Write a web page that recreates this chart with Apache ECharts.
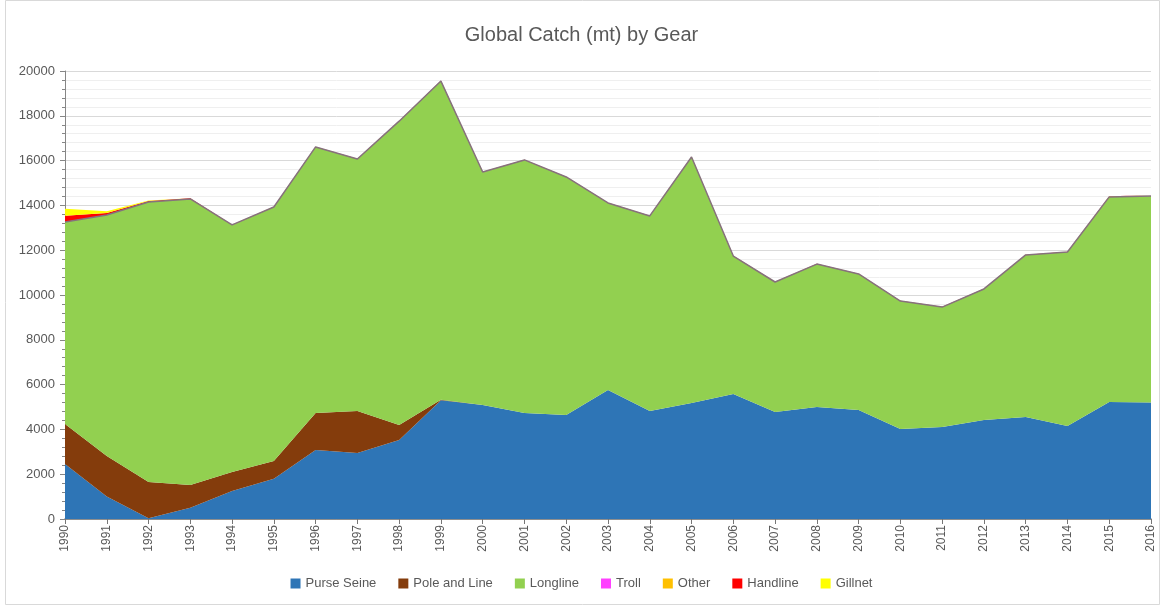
<!DOCTYPE html>
<html>
<head>
<meta charset="utf-8">
<script src="https://cdn.jsdelivr.net/npm/echarts@6/dist/echarts.min.js"></script>
<style>
  html, body { margin: 0; padding: 0; background: #fff; }
  #main { width: 1163px; height: 607px; }
</style>
</head>
<body>
<div id="main"></div>
<script>
var years = ['1990', '1991', '1992', '1993', '1994', '1995', '1996', '1997', '1998', '1999',
    '2000', '2001', '2002', '2003', '2004', '2005', '2006', '2007', '2008', '2009',
    '2010', '2011', '2012', '2013', '2014', '2015', '2016']

var purseSeine = [2450, 1000, 30, 500, 1250, 1800, 3080, 2950, 3530, 5300,
    5090, 4730, 4640, 5760, 4820, 5180, 5580, 4780, 5000, 4870,
    4020, 4110, 4420, 4550, 4150, 5220, 5200]
var poleAndLine = [1790, 1810, 1620, 1020, 850, 790, 1650, 1870, 670, 20,
    0, 0, 0, 0, 0, 0, 0, 0, 0, 0,
    0, 0, 0, 0, 0, 0, 0]
var longline = [9020, 10760, 12500, 12770, 11030, 11340, 11880, 11250, 13560, 14230,
    10400, 11300, 10630, 8350, 8710, 10980, 6160, 5800, 6380, 6070,
    5710, 5350, 5850, 7240, 7770, 9160, 9220]
var troll = [0, 0, 0, 0, 0, 0, 0, 0, 0, 0,
    0, 0, 0, 0, 0, 0, 0, 0, 0, 0,
    0, 0, 0, 0, 0, 0, 0]
var other = [0, 0, 0, 0, 0, 0, 0, 0, 0, 0,
    0, 0, 0, 0, 0, 0, 0, 0, 0, 0,
    0, 0, 0, 0, 0, 20, 20]
var handline = [280, 90, 50, 30, 10, 10, 10, 10, 10, 10,
    10, 10, 10, 10, 10, 10, 10, 10, 10, 10,
    10, 10, 10, 10, 10, 10, 10]
var gillnet = [310, 80, 20, 0, 0, 0, 0, 0, 0, 0,
    0, 0, 0, 0, 0, 0, 0, 0, 0, 0,
    0, 0, 0, 0, 0, 0, 0]

var myChart = echarts.init(document.getElementById('main'))

var font = 'Liberation Sans, Arial, sans-serif'

// one stacked area series
function area(name, data, color, line) {
    return {
        name: name,
        type: 'line',
        stack: 'total',
        data: data,
        symbol: 'none',
        smooth: false,
        itemStyle: { color: color },
        lineStyle: line || { width: 0 },
        areaStyle: { color: color, opacity: 1 },
        emphasis: { disabled: true }
    }
}

var options = {
    animation: false,
    backgroundColor: '#fff',
    title: {
        text: 'Global Catch (mt) by Gear',
        left: 'center',
        top: 20,
        textStyle: { fontFamily: font, fontSize: 20, fontWeight: 'normal', color: '#595959' }
    },
    legend: {
        bottom: 12,
        left: 'center',
        itemWidth: 10,
        itemHeight: 10,
        itemGap: 22,
        icon: 'rect',
        textStyle: { fontFamily: font, fontSize: 13, color: '#595959' },
        data: ['Purse Seine', 'Pole and Line', 'Longline', 'Troll', 'Other', 'Handline', 'Gillnet']
    },
    grid: { left: 65, right: 12, top: 71, bottom: 88 },
    xAxis: {
        type: 'category',
        data: years,
        boundaryGap: false,
        axisLine: { lineStyle: { color: '#767676', width: 1.5 } },
        axisTick: { show: true, lineStyle: { color: '#767676' }, length: 5 },
        axisLabel: { rotate: 90, fontFamily: font, fontSize: 12, color: '#595959', margin: 6 },
        splitLine: { show: false }
    },
    yAxis: {
        type: 'value',
        min: 0,
        max: 20000,
        interval: 2000,
        axisLine: { show: true, lineStyle: { color: '#868686' } },
        axisTick: { show: true, lineStyle: { color: '#868686' }, length: 5 },
        minorTick: { show: true, splitNumber: 5, length: 3, lineStyle: { color: '#868686' } },
        axisLabel: {
            fontFamily: font, fontSize: 13, color: '#595959', margin: 10,
            formatter: function (v) { return String(v) }
        },
        splitLine: { lineStyle: { color: '#d9d9d9' } },
        minorSplitLine: { show: true, lineStyle: { color: '#efefef' } }
    },
    graphic: [{
        type: 'rect',
        shape: { x: 5.5, y: 0.5, width: 1154, height: 604 },
        style: { fill: 'none', stroke: '#d9d9d9', lineWidth: 1 },
        silent: true
    }],
    series: [
        area('Purse Seine', purseSeine, '#2E75B6'),
        area('Pole and Line', poleAndLine, '#843C0C'),
        area('Longline', longline, '#92D050', { width: 1.5, color: '#86727c' }),
        area('Troll', troll, '#FF40FF'),
        area('Other', other, '#FFC000'),
        area('Handline', handline, '#FF0000'),
        area('Gillnet', gillnet, '#FFFF00')
    ]
}

myChart.setOption(options)
</script>
</body>
</html>
